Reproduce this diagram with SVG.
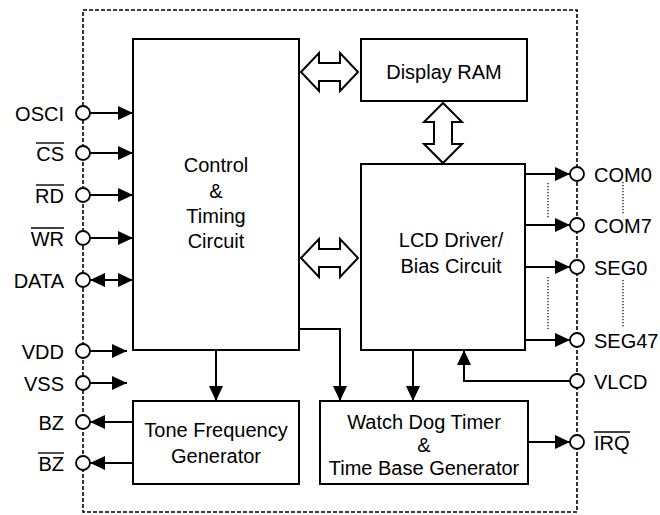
<svg xmlns="http://www.w3.org/2000/svg" width="660" height="515" viewBox="0 0 660 515">
<defs>
<style>
text{font-family:"Liberation Sans",Arial,Helvetica,sans-serif;font-size:20px;fill:#000}
.box{fill:#fff;stroke:#000;stroke-width:2}
.ln{fill:none;stroke:#000;stroke-width:2}
.pin{fill:#fff;stroke:#000;stroke-width:1.8}
.hollow{fill:#fff;stroke:#000;stroke-width:2;stroke-linejoin:miter}
.border{fill:none;stroke:#000;stroke-width:1.6;stroke-dasharray:4 2}
.dots{fill:none;stroke:#000;stroke-width:1.2;stroke-dasharray:1.2 1.8}
.ov{stroke:#000;stroke-width:1.4}
.m{text-anchor:middle}
.r{text-anchor:end}
</style>
<marker id="ah" viewBox="0 0 15 14" refX="15" refY="7" markerWidth="15" markerHeight="14" markerUnits="userSpaceOnUse" orient="auto-start-reverse">
<path d="M0,0 L15,7 L0,14 Z" fill="#000"/>
</marker>
</defs>
<rect id="boundary" class="border" x="83" y="10" width="494" height="502"/>

<g id="control">
<rect class="box" x="133" y="39" width="166" height="311"/>
<text class="m" x="216" y="172">Control</text>
<text class="m" x="216" y="198">&amp;</text>
<text class="m" x="216" y="223">Timing</text>
<text class="m" x="216" y="248">Circuit</text>
</g>
<g id="display-ram">
<rect class="box" x="361" y="39" width="166" height="62"/>
<text class="m" x="444" y="79">Display RAM</text>
</g>
<g id="lcd-driver">
<rect class="box" x="361" y="164" width="164" height="186"/>
<text class="m" x="451" y="247">LCD Driver/</text>
<text class="m" x="451" y="273">Bias Circuit</text>
</g>
<g id="tone">
<rect class="box" x="133" y="401" width="166" height="83"/>
<text class="m" x="216" y="437">Tone Frequency</text>
<text class="m" x="216" y="463">Generator</text>
</g>
<g id="wdt">
<rect class="box" x="320" y="401" width="208" height="83"/>
<text class="m" x="424" y="429">Watch Dog Timer</text>
<text class="m" x="424" y="452">&amp;</text>
<text class="m" x="424" y="475">Time Base Generator</text>
</g>

<g id="connectors">
<polygon class="hollow" points="301,72 319,53 319,63 340,63 340,53 358,72 340,91 340,81 319,81 319,91"/>
<polygon class="hollow" points="301,258 319,239 319,249 340,249 340,239 358,258 340,277 340,267 319,267 319,277"/>
<polygon class="hollow" points="443,103 462,122 452,122 452,144 462,144 443,163 424,144 434,144 434,122 424,122"/>
<line class="ln" x1="90" y1="113" x2="133" y2="113" marker-end="url(#ah)"/>
<line class="ln" x1="90" y1="153" x2="133" y2="153" marker-end="url(#ah)"/>
<line class="ln" x1="90" y1="195" x2="133" y2="195" marker-end="url(#ah)"/>
<line class="ln" x1="90" y1="238" x2="133" y2="238" marker-end="url(#ah)"/>
<line class="ln" x1="90" y1="280" x2="133" y2="280" marker-start="url(#ah)" marker-end="url(#ah)"/>
<line class="ln" x1="90" y1="351" x2="127" y2="351" marker-end="url(#ah)"/>
<line class="ln" x1="90" y1="383" x2="127" y2="383" marker-end="url(#ah)"/>
<line class="ln" x1="133" y1="422" x2="90" y2="422" marker-end="url(#ah)"/>
<line class="ln" x1="133" y1="463" x2="90" y2="463" marker-end="url(#ah)"/>
<line class="ln" x1="216" y1="350" x2="216" y2="401" marker-end="url(#ah)"/>
<polyline class="ln" points="299,329 340,329 340,401" marker-end="url(#ah)"/>
<line class="ln" x1="413" y1="350" x2="413" y2="401" marker-end="url(#ah)"/>
<polyline class="ln" points="570,381 464,381 464,350" marker-end="url(#ah)"/>
<line class="ln" x1="525" y1="174" x2="570" y2="174" marker-end="url(#ah)"/>
<line class="ln" x1="525" y1="225" x2="570" y2="225" marker-end="url(#ah)"/>
<line class="ln" x1="525" y1="267" x2="570" y2="267" marker-end="url(#ah)"/>
<line class="ln" x1="525" y1="340" x2="570" y2="340" marker-end="url(#ah)"/>
<line class="ln" x1="528" y1="442" x2="570" y2="442" marker-end="url(#ah)"/>
<line class="dots" x1="548" y1="183" x2="548" y2="218"/>
<line class="dots" x1="548" y1="277" x2="548" y2="329"/>
<line class="dots" x1="623" y1="182" x2="623" y2="215"/>
<line class="dots" x1="623" y1="280" x2="623" y2="327"/>
</g>

<g id="pins-left">
<circle class="pin" cx="83" cy="113" r="7"/><text class="r" x="64" y="121">OSCI</text>
<circle class="pin" cx="83" cy="153" r="7"/><text class="r" x="64" y="161">CS</text><line class="ov" x1="36" y1="143" x2="64" y2="143"/>
<circle class="pin" cx="83" cy="195" r="7"/><text class="r" x="64" y="203">RD</text><line class="ov" x1="36" y1="185" x2="64" y2="185"/>
<circle class="pin" cx="83" cy="238" r="7"/><text class="r" x="64" y="246">WR</text><line class="ov" x1="31" y1="228" x2="64" y2="228"/>
<circle class="pin" cx="83" cy="280" r="7"/><text class="r" x="64" y="288">DATA</text>
<circle class="pin" cx="83" cy="351" r="7"/><text class="r" x="64" y="359">VDD</text>
<circle class="pin" cx="83" cy="383" r="7"/><text class="r" x="64" y="391">VSS</text>
<circle class="pin" cx="83" cy="422" r="7"/><text class="r" x="64" y="430">BZ</text>
<circle class="pin" cx="83" cy="463" r="7"/><text class="r" x="64" y="471">BZ</text><line class="ov" x1="38" y1="453" x2="64" y2="453"/>
</g>
<g id="pins-right">
<circle class="pin" cx="577" cy="174" r="7"/><text x="594" y="182">COM0</text>
<circle class="pin" cx="577" cy="225" r="7"/><text x="594" y="233">COM7</text>
<circle class="pin" cx="577" cy="267" r="7"/><text x="594" y="275">SEG0</text>
<circle class="pin" cx="577" cy="340" r="7"/><text x="594" y="348">SEG47</text>
<circle class="pin" cx="577" cy="381" r="7"/><text x="594" y="389">VLCD</text>
<circle class="pin" cx="577" cy="442" r="7"/><text x="594" y="450">IRQ</text><line class="ov" x1="594" y1="432" x2="630" y2="432"/>
</g>
</svg>
